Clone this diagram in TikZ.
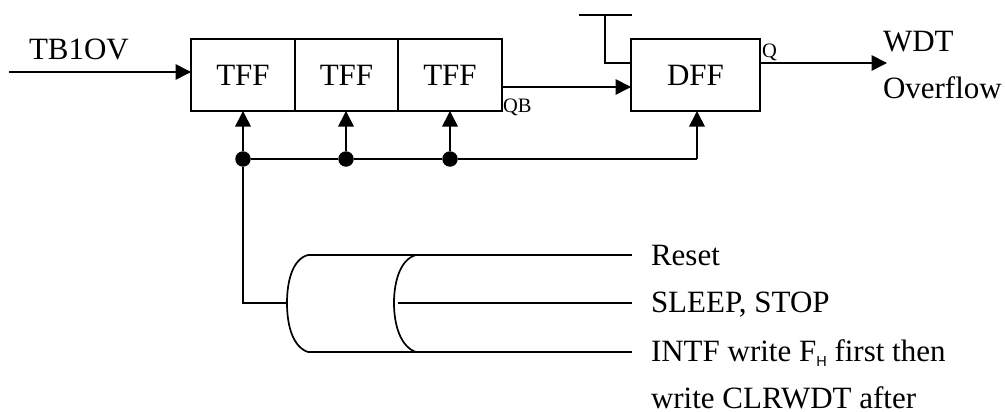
\documentclass[tikz,border=0pt]{standalone}
\usepackage{fontspec}
\setmainfont{Liberation Serif}
\newfontfamily\subfont{Liberation Sans}
\usetikzlibrary{arrows.meta}
\tikzset{
  x=1pt,y=-1pt,
  wire/.style={line width=1.7pt,black},
  arrowwire/.style={wire,-{Triangle[length=15.5pt,width=15.5pt]},shorten >=0pt},
  cell/.style={draw=black,line width=1.7pt,minimum height=72pt,inner sep=0pt,outer sep=0pt,font=\fontsize{31}{31}\selectfont},
  dotnode/.style={circle,fill=black,minimum size=15.5pt,inner sep=0pt,outer sep=0pt},
  biglabel/.style={inner sep=0pt,outer sep=0pt,anchor=base west,font=\fontsize{31}{31}\selectfont},
  smalllabel/.style={inner sep=0pt,outer sep=0pt,anchor=base west,font=\fontsize{20.5}{20.5}\selectfont},
}
\begin{document}
\begin{tikzpicture}
\useasboundingbox (0,0) rectangle (1005,412);
% boxes
\node[cell,minimum width=104pt] (t1) at (243,75) {TFF};
\node[cell,minimum width=103pt] (t2) at (346.5,75) {TFF};
\node[cell,minimum width=104pt] (t3) at (450,75) {TFF};
\node[cell,minimum width=129pt] (dff) at (695.5,75) {DFF};
% free ends
\coordinate (in) at (9,72);
\coordinate (inhit) at (191,72);
\coordinate (qbout) at (502,87);
\coordinate (qbin) at (631,87);
\coordinate (qout) at (760,63);
\coordinate (wdt) at (887,63);
\coordinate (barl) at (579,15);
\coordinate (barr) at (632,15);
\coordinate (barm) at (605,15);
\coordinate (dset) at (631,63);
% bus dots
\node[dotnode] (d1) at (243,159) {};
\node[dotnode] (d2) at (346,159) {};
\node[dotnode] (d3) at (450,159) {};
\coordinate (bend) at (697,159);
\coordinate (dclk) at (697,111);
% OR gate
\coordinate (orout) at (287,303);
\coordinate (corner) at (243,303);
\coordinate (otl) at (308,255);
\coordinate (obl) at (308,352);
\coordinate (itl) at (416,255);
\coordinate (ibl) at (416,352);
\coordinate (imid) at (394,303);
\coordinate (imidr) at (398,303);
\coordinate (e1) at (632,255);
\coordinate (e2) at (632,303);
\coordinate (e3) at (632,352);
% connectors
\draw[arrowwire] (in) -- (inhit);
\draw[arrowwire] (qbout) -- (qbin);
\draw[arrowwire] (qout) -- (wdt);
\draw[wire] (barl) -- (barr);
\draw[wire] (barm) |- (dset);
\draw[arrowwire] (d1) -- (t1.south);
\draw[arrowwire] (d2) -- (d2 |- t2.south);
\draw[arrowwire] (d3) -- (t3.south);
\draw[wire] (d1) -- (d2) -- (d3) -- (bend);
\draw[arrowwire] (bend) -- (dclk);
\draw[wire] (d1) -- (corner) -- (orout);
\draw[wire] (otl) .. controls (293,259) and (287,280) .. (orout) .. controls (287,326) and (293,347) .. (obl);
\draw[wire] (itl) .. controls (401,259) and (394,280) .. (imid) .. controls (394,326) and (401,347) .. (ibl);
\draw[wire] (otl) -- (e1);
\draw[wire] (imidr) -- (e2);
\draw[wire] (obl) -- (e3);
% labels
\node[biglabel] (ltb) at (29,60) {TB1OV};
\node[biglabel] (lwdt) at (883,52) {WDT};
\node[biglabel] (lov) at (883,99) {Overflow};
\node[smalllabel] (lqb) at (503,113) {QB};
\node[smalllabel] (lq) at (762,58) {Q};
\node[biglabel] (l1) at (651,265) {Reset};
\node[biglabel] (l2) at (651,312) {SLEEP, STOP};
\node[biglabel] (l3) at (651,361) {INTF write F\raisebox{-5pt}{\subfont\fontsize{14.5}{14.5}\selectfont H} first then};
\node[biglabel] (l4) at (651,408) {write CLRWDT after};
\end{tikzpicture}
\end{document}
